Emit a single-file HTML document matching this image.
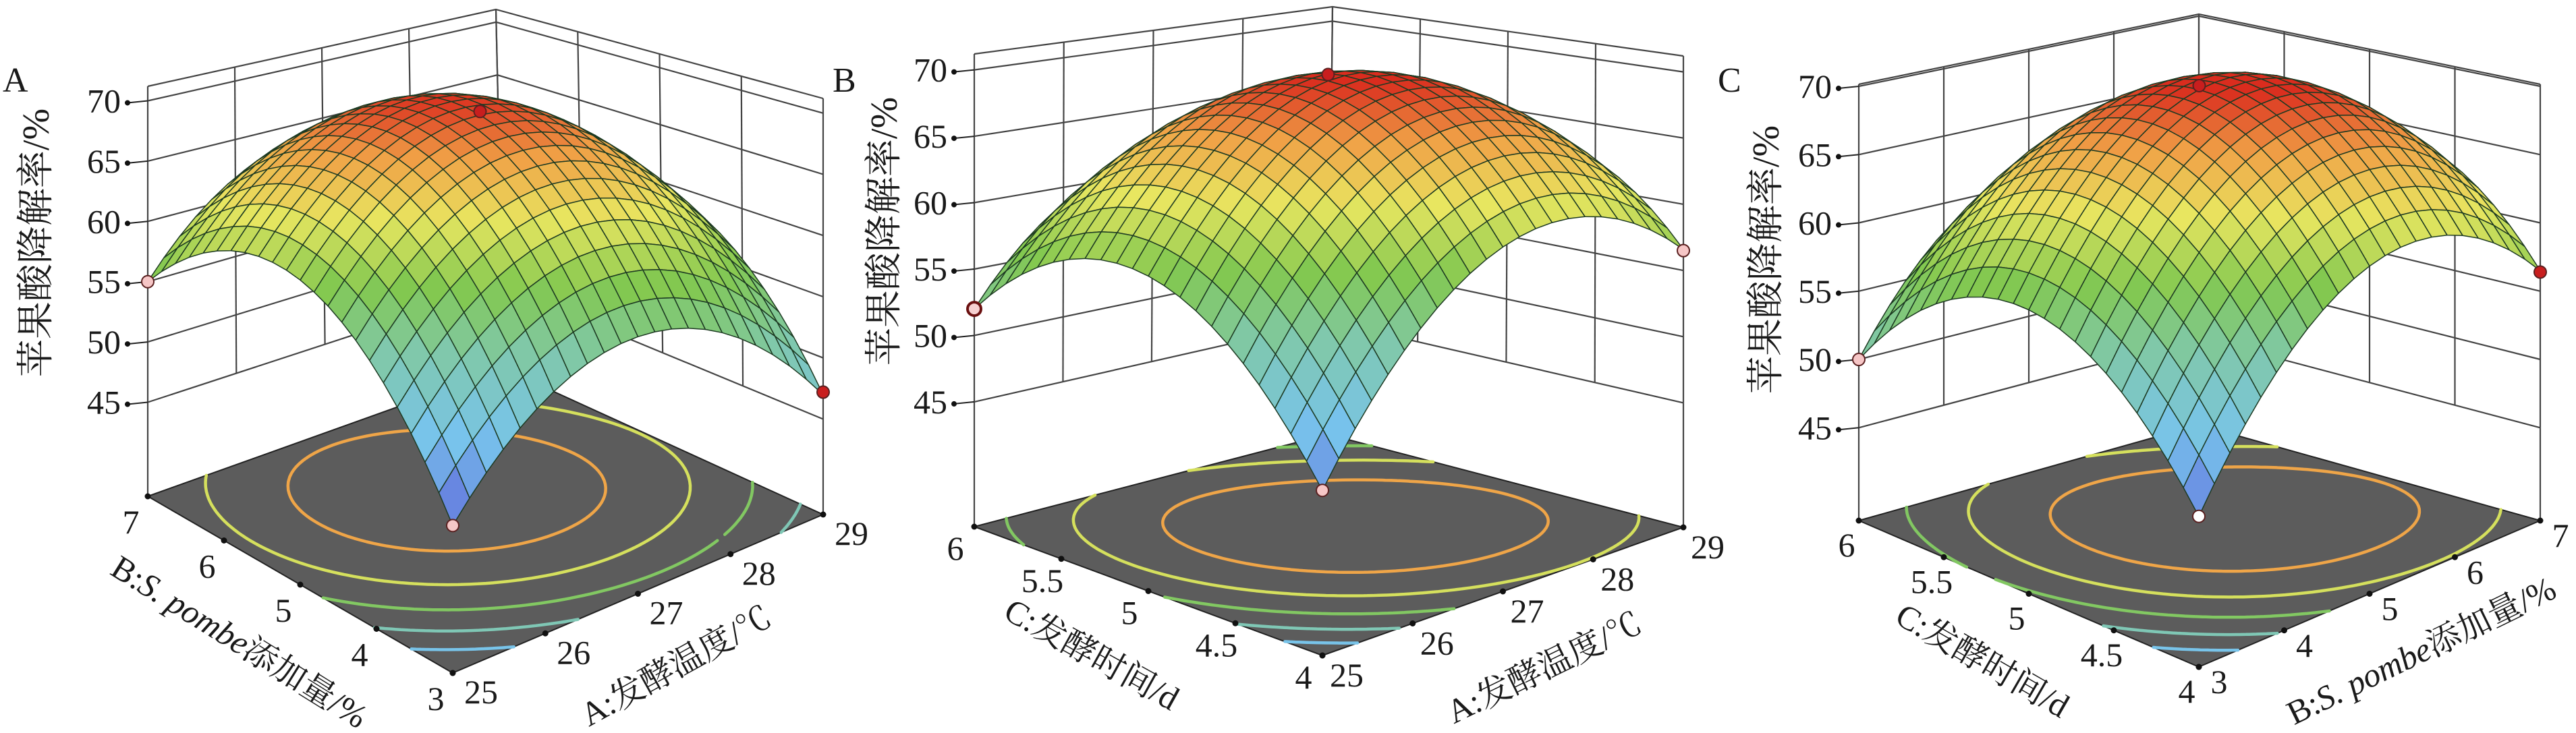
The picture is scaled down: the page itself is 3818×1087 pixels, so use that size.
<!DOCTYPE html>
<html><head><meta charset="utf-8">
<style>
html,body{margin:0;padding:0;background:#fff;overflow:hidden;}
svg{display:block;}
text{font-family:"Liberation Serif","Noto Serif CJK SC",serif;fill:#1a1a1a;}
</style></head>
<body>
<svg id="chart" width="3818" height="1087" viewBox="0 0 3818 1087" xmlns="http://www.w3.org/2000/svg">
<rect width="3818" height="1087" fill="#fff"/>
</svg>
<script>
// ---- data (3x3 response grid at coded levels -1,0,1; rows = left-axis factor, cols = right-axis factor)
const zGridA = [[38, 52.5, 47], [56.5, 68, 59.5], [55, 63.5, 52]];
const zGridB = [[40, 57.95, 56.6], [55.65, 69, 62.95], [52, 60.65, 50]];
const zGridC = [[39, 57.6, 56.5], [54.3, 69, 64.1], [50, 60.8, 52]];
const zTicks = [45, 50, 55, 60, 65, 70];
const contourLevels = [45, 50, 55, 60, 65];
const ticksTemp = [25, 26, 27, 28, 29];
const ticksPombe = [3, 4, 5, 6, 7];
const ticksTime = [4, 4.5, 5, 5.5, 6];
const pointsA = [[0, 0, 68.3, "red"], [-1, 1, 55, "pink"], [-1, -1, 38, "pink"], [1, -1, 47.2, "red"]];
const pointsB = [[0, 0, 69.5, "red"], [-1, 1, 52, "ring"], [-1, -1, 40, "pink"], [1, -1, 56.5, "pink"]];
const pointsC = [[0, 0, 69.3, "red"], [-1, 1, 50, "pink"], [-1, -1, 39, "white"], [1, -1, 56.4, "red"]];

const NS = "http://www.w3.org/2000/svg";
const svg = document.getElementById("chart");
function mk(tag, attrs, parent) {
  const e = document.createElementNS(NS, tag);
  for (const k in attrs) e.setAttribute(k, attrs[k]);
  (parent || svg).appendChild(e);
  return e;
}
function lag(x) { return [x * (x - 1) / 2, 1 - x * x, x * (x + 1) / 2]; }
function zAt(grid, u, v) {
  const lu = lag(u), lv = lag(v); let s = 0;
  for (let i = 0; i < 3; i++) for (let j = 0; j < 3; j++) s += lv[i] * lu[j] * grid[i][j];
  return s;
}
const stops = [[0, [96, 104, 220]], [0.22, [120, 196, 236]], [0.42, [128, 200, 170]], [0.58, [130, 200, 80]], [0.74, [232, 230, 96]], [0.88, [240, 160, 70]], [1, [218, 44, 30]]];
function cmap(t) {
  t = Math.max(0, Math.min(1, t));
  for (let i = 1; i < stops.length; i++) {
    if (t <= stops[i][0]) {
      const a = stops[i - 1], b = stops[i], f = (t - a[0]) / (b[0] - a[0]);
      const c = a[1].map((x, k) => Math.round(x + (b[1][k] - x) * f));
      return "rgb(" + c.join(",") + ")";
    }
  }
  return "rgb(218,44,30)";
}
function bil(P, s, t) {
  return [
    P.F[0] * (1 - s) * (1 - t) + P.R[0] * s * (1 - t) + P.L[0] * (1 - s) * t + P.B[0] * s * t,
    P.F[1] * (1 - s) * (1 - t) + P.R[1] * s * (1 - t) + P.L[1] * (1 - s) * t + P.B[1] * s * t];
}

function panel(cfg) {
  const g = mk("g", {});
  
  
  const [uMin, uMax] = [cfg.uTicks[0], cfg.uTicks[cfg.uTicks.length - 1]];
  const [vMin, vMax] = [cfg.vTicks[0], cfg.vTicks[cfg.vTicks.length - 1]];
  function proj(s, t, z) {
    const f = bil(cfg.floor, s, t), tp = bil(cfg.top, s, t);
    const h = (z - cfg.zmin) / (cfg.zmax - cfg.zmin);
    return [f[0] + (tp[0] - f[0]) * h, f[1] + (tp[1] - f[1]) * h];
  }
  const pp = (s, t) => bil(cfg.plane, s, t);
  const fmt = p => p[0].toFixed(1) + "," + p[1].toFixed(1);
  const zfun = (s, t) => zAt(cfg.grid, 2 * s - 1, 2 * t - 1);
  const surfMin = 38, surfMax = 69;
  const tcol = z => cmap((z - surfMin) / (surfMax - surfMin));

  const fl = mk("polygon", {points: [pp(0,0), pp(1,0), pp(1,1), pp(0,1)].map(fmt).join(" "), fill: "#5c5c5c", stroke: "#222", "stroke-width": 2}, g);
  
  

  const M = 70;
  const cg = mk("g", {}, g);
  
  
  contourLevels.forEach(lv => {
    let d = "";
    for (let i = 0; i < M; i++) for (let j = 0; j < M; j++) {
      const s0 = i / M, s1 = (i + 1) / M, t0 = j / M, t1 = (j + 1) / M;
      const c = [[s0, t0, zfun(s0, t0)], [s1, t0, zfun(s1, t0)], [s1, t1, zfun(s1, t1)], [s0, t1, zfun(s0, t1)]];
      const pts = [];
      for (let k = 0; k < 4; k++) {
        const a = c[k], b = c[(k + 1) % 4];
        if ((a[2] - lv) * (b[2] - lv) < 0) {
          const f = (lv - a[2]) / (b[2] - a[2]);
          pts.push(pp(a[0] + (b[0] - a[0]) * f, a[1] + (b[1] - a[1]) * f));
        }
      }
      if (pts.length >= 2) d += "M" + fmt(pts[0]) + "L" + fmt(pts[1]);
      if (pts.length === 4) d += "M" + fmt(pts[2]) + "L" + fmt(pts[3]);
    }
    const p = mk("path", {d: d, stroke: tcol(lv), "stroke-width": 4.5, fill: "none", "stroke-linecap": "round"}, cg);
    
    
  });

  const wg = mk("g", {stroke: "#444", "stroke-width": 2.2, fill: "none"}, g);
  
  
  const zl = zTicks.concat([cfg.zmax]);
  zl.forEach(z => {
    mk("polyline", {points: [proj(0,1,z), proj(1,1,z), proj(1,0,z)].map(fmt).join(" ")}, wg);
  });
  const zw = zTicks[0];
  cfg.uTicks.forEach(u => { const s = (u - uMin) / (uMax - uMin); mk("line", {x1: proj(s,1,zw)[0], y1: proj(s,1,zw)[1], x2: proj(s,1,cfg.zmax)[0], y2: proj(s,1,cfg.zmax)[1]}, wg); });
  cfg.vTicks.forEach(v => { const t = (v - vMin) / (vMax - vMin); mk("line", {x1: proj(1,t,zw)[0], y1: proj(1,t,zw)[1], x2: proj(1,t,cfg.zmax)[0], y2: proj(1,t,cfg.zmax)[1]}, wg); });
  // corner verticals down to contour plane
  [[0,1],[1,0],[1,1]].forEach(c => { const a = pp(c[0], c[1]), b = proj(c[0], c[1], zw); mk("line", {x1: a[0], y1: a[1], x2: b[0], y2: b[1]}, wg); });

  zTicks.forEach(z => {
    const p = proj(0, 1, z);
    mk("line", {x1: p[0] - 30, y1: p[1] + 3, x2: p[0], y2: p[1], stroke: "#222", "stroke-width": 2}, g);
    mk("circle", {cx: p[0] - 30, cy: p[1] + 3, r: 4, fill: "#111"}, g);
    const tx = mk("text", {x: p[0] - 40, y: p[1] + 17, "font-size": 50, "text-anchor": "end"}, g);
    tx.textContent = z;
    
    
  });

  const N = 22, quads = [];
  for (let i = 0; i < N; i++) for (let j = 0; j < N; j++) {
    const s0 = i / N, s1 = (i + 1) / N, t0 = j / N, t1 = (j + 1) / N;
    const zs = [zfun(s0,t0), zfun(s1,t0), zfun(s1,t1), zfun(s0,t1)];
    quads.push({depth: s0 + t0, pts: [proj(s0,t0,zs[0]), proj(s1,t0,zs[1]), proj(s1,t1,zs[2]), proj(s0,t1,zs[3])], z: (zs[0]+zs[1]+zs[2]+zs[3]) / 4});
  }
  quads.sort((a, b) => b.depth - a.depth);
  const sg = mk("g", {}, g);
  
  
  quads.forEach(q => {
    const pl = mk("polygon", {points: q.pts.map(fmt).join(" "), fill: tcol(q.z), stroke: "#1d3a22", "stroke-width": 1.5, "stroke-linejoin": "round"}, sg);
    
    
  });

  cfg.points.forEach(pt => {
    const p = proj((pt[0] + 1) / 2, (pt[1] + 1) / 2, pt[2]);
    const col = {red: "#c81e1e", pink: "#f6c6c6", white: "#ffffff", ring: "#f6d0d0"}[pt[3]];
    const c = mk("circle", {cx: p[0], cy: p[1], r: pt[3] === "ring" ? 10 : 9, fill: col, stroke: pt[3] === "ring" ? "#6a1010" : "#5a2020", "stroke-width": pt[3] === "ring" ? 4 : 2}, g);
    
    
  });

  cfg.vTicks.forEach(v => {
    const t = (v - vMin) / (vMax - vMin), p = pp(0, t);
    mk("circle", {cx: p[0], cy: p[1], r: 4.5, fill: "#111"}, g);
    const tx = mk("text", {x: p[0] + cfg.lOff[0], y: p[1] + cfg.lOff[1] + 17, "font-size": 50, "text-anchor": "middle"}, g);
    tx.textContent = v;
    
    
  });
  cfg.uTicks.forEach(u => {
    const s = (u - uMin) / (uMax - uMin), p = pp(s, 0);
    mk("circle", {cx: p[0], cy: p[1], r: 4.5, fill: "#111"}, g);
    const tx = mk("text", {x: p[0] + cfg.rOff[0], y: p[1] + cfg.rOff[1] + 17, "font-size": 50, "text-anchor": "middle"}, g);
    tx.textContent = u;
    
    
  });
}

panel({name: "panel-a", grid: zGridA, uTicks: ticksTemp, vTicks: ticksPombe, points: pointsA, zmin: 37.2, zmax: 71.2,
  lOff: [-25, 38], rOff: [42, 28],
  plane: {F: [671, 998], R: [1220, 763], L: [219, 736], B: [747, 547]},
  floor: {F: [671, 794], R: [1220, 763], L: [219, 736], B: [747, 547]},
  top: {F: [671, 170], R: [1220, 146], L: [219, 128], B: [735, 14]}});
panel({name: "panel-b", grid: zGridB, uTicks: ticksTemp, vTicks: ticksTime, points: pointsB, zmin: 35.6, zmax: 71.2,
  lOff: [-28, 32], rOff: [36, 29],
  plane: {F: [1960, 972], R: [2495, 782], L: [1444, 781], B: [1968, 644]},
  floor: {F: [1960, 810], R: [2495, 782], L: [1444, 781], B: [1968, 644]},
  top: {F: [1960, 140], R: [2495, 83], L: [1444, 80], B: [1975, 10]}});
panel({name: "panel-c", grid: zGridC, uTicks: ticksPombe, vTicks: ticksTime, points: pointsC, zmin: 38.2, zmax: 70.15,
  lOff: [-18, 36], rOff: [30, 22],
  plane: {F: [3259, 989], R: [3765, 772], L: [2755, 772], B: [3259, 630]},
  floor: {F: [3259, 781], R: [3765, 772], L: [2755, 772], B: [3259, 630]},
  top: {F: [3259, 170], R: [3765, 125], L: [2755, 125], B: [3259, 21]}});
</script>
<svg style="position:absolute;left:0;top:0" width="3818" height="1087" viewBox="0 0 3818 1087" xmlns="http://www.w3.org/2000/svg">
<g style="font-family:'Liberation Serif','Noto Serif CJK SC',serif;fill:#1a1a1a">
<text x="4" y="136" font-size="52">A</text>
<text x="1234" y="136" font-size="52">B</text>
<text x="2546" y="136" font-size="52">C</text>

<text transform="translate(72,360) rotate(-90)" font-size="56" text-anchor="middle">苹果酸降解率/%</text>
<text transform="translate(1329,343) rotate(-90)" font-size="56" text-anchor="middle">苹果酸降解率/%</text>
<text transform="translate(2636,385) rotate(-90)" font-size="56" text-anchor="middle">苹果酸降解率/%</text>

<text transform="translate(346,966) rotate(32)" font-size="50" text-anchor="middle">B:<tspan font-style="italic">S. pombe</tspan>添加量/%</text>
<text transform="translate(1010,1002) rotate(-29)" font-size="50" text-anchor="middle">A:发酵温度/℃</text>
<text transform="translate(1610,985) rotate(29)" font-size="50" text-anchor="middle">C:发酵时间/d</text>
<text transform="translate(2296,1005) rotate(-26)" font-size="50" text-anchor="middle">A:发酵温度/℃</text>
<text transform="translate(2930,994) rotate(30)" font-size="50" text-anchor="middle">C:发酵时间/d</text>
<text transform="translate(3596,980) rotate(-26)" font-size="50" text-anchor="middle">B:<tspan font-style="italic">S. pombe</tspan>添加量/%</text>
</g>
</svg>
</body></html>
